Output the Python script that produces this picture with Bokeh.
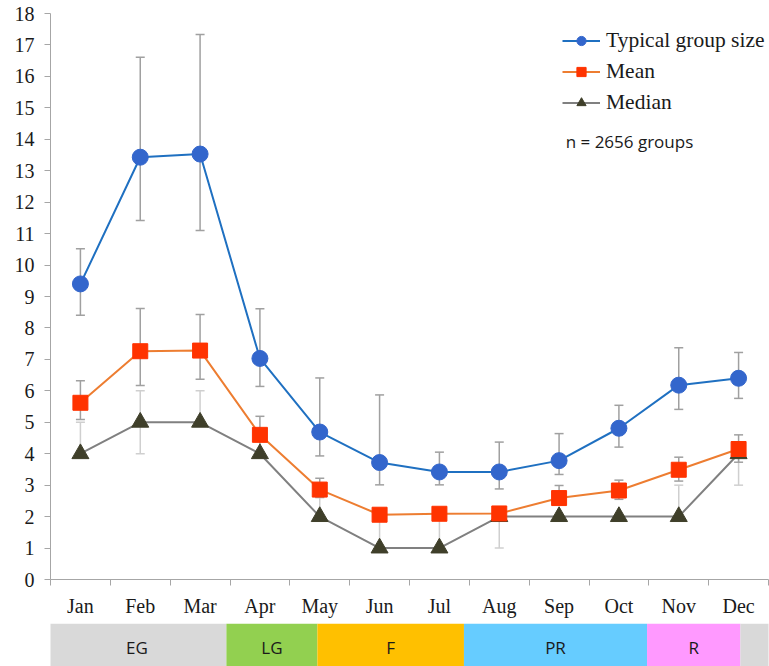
from bokeh.plotting import figure
from bokeh.models import FixedTicker, Range1d, Legend, LegendItem, Label
from bokeh.layouts import column
from bokeh.embed import file_html
from bokeh.resources import INLINE
from bokeh.core.properties import value

# ---------------- data ----------------
months = ["Jan", "Feb", "Mar", "Apr", "May", "Jun", "Jul", "Aug", "Sep", "Oct", "Nov", "Dec"]

typical = [9.40, 13.43, 13.53, 7.03, 4.69, 3.72, 3.42, 3.42, 3.78, 4.81, 6.18, 6.40]
typical_lo = [8.40, 11.42, 11.10, 6.14, 3.93, 3.01, 3.01, 2.88, 3.34, 4.21, 5.41, 5.76]
typical_hi = [10.52, 16.61, 17.33, 8.61, 6.41, 5.87, 4.05, 4.37, 4.64, 5.54, 7.37, 7.22]

mean = [5.62, 7.26, 7.28, 4.60, 2.86, 2.06, 2.09, 2.10, 2.59, 2.83, 3.49, 4.15]
mean_lo = [5.09, 6.17, 6.37, 4.05, 2.62, 1.95, 1.95, 1.95, 2.40, 2.55, 3.13, 3.73]
mean_hi = [6.32, 8.62, 8.43, 5.19, 3.22, 2.20, 2.20, 2.25, 2.99, 3.16, 3.89, 4.60]

median = [4, 5, 5, 4, 2, 1, 1, 2, 2, 2, 2, 4]
median_lo = [4, 4, 5, 4, 2, 1, 1, 1, 2, 2, 2, 3]
median_hi = [5, 6, 6, 4, 2.6, 2, 2, 2, 2, 2, 3, 4]

# phases (in month units, 0 = start of January)
phases = ["EG", "LG", "F", "PR", "R", ""]
phase_start = [-0.05, 2.94, 4.46, 6.91, 9.97, 11.53]
phase_end = [2.94, 4.46, 6.91, 9.97, 11.53, 12.02]

n_text = "n = 2656 groups"

# ---------------- styles ----------------
SERIF = "Liberation Serif"
SANS = "Open Sans"
AXIS_GREY = "#A6A6A6"
ERR_GREY = "#A0A0A0"
ERR_LIGHT = "#CFCFCF"
phase_colors = ["#D9D9D9", "#92D050", "#FFC000", "#66CCFF", "#FF99FF", "#D9D9D9"]

x = list(range(len(months)))
xr = Range1d(-0.5, 11.5)

p = figure(width=769, height=623, x_range=xr, y_range=Range1d(0, 18),
           output_backend="svg", toolbar_location=None,
           min_border_left=50, min_border_right=1, min_border_top=13, min_border_bottom=44)
p.xgrid.visible = False
p.ygrid.visible = False
p.outline_line_color = None
p.background_fill_color = "white"

# x axis
xa = p.xaxis[0]
xa.ticker = FixedTicker(ticks=x, minor_ticks=[i - 0.5 for i in range(len(months) + 1)])
xa.major_label_overrides = {i: m for i, m in enumerate(months)}
xa.major_tick_out = 0
xa.major_tick_in = 0
xa.minor_tick_out = 6
xa.minor_tick_in = 0
xa.axis_line_color = AXIS_GREY
xa.minor_tick_line_color = AXIS_GREY
xa.major_label_text_font = SERIF
xa.major_label_text_font_size = "20px"
xa.major_label_text_color = "#1a1a1a"
xa.major_label_standoff = 9

# y axis
ya = p.yaxis[0]
ya.ticker = FixedTicker(ticks=list(range(0, 19)))
ya.major_tick_out = 6
ya.major_tick_in = 0
ya.minor_tick_line_color = None
ya.axis_line_color = AXIS_GREY
ya.major_tick_line_color = AXIS_GREY
ya.major_label_text_font = SERIF
ya.major_label_text_font_size = "20px"
ya.major_label_text_color = "#1a1a1a"
ya.major_label_standoff = 10

# error bars
def errbars(lo, hi, color):
    p.segment(x0=x, y0=lo, x1=x, y1=hi, line_color=color, line_width=1.5)
    p.scatter(x=x, y=lo, marker="dash", size=9, line_color=color, line_width=1.5)
    p.scatter(x=x, y=hi, marker="dash", size=9, line_color=color, line_width=1.5)

errbars(median_lo, median_hi, ERR_LIGHT)
errbars(typical_lo, typical_hi, ERR_GREY)
errbars(mean_lo, mean_hi, ERR_GREY)

# series
l3 = p.line(x, median, line_color="#808080", line_width=2)
s3 = p.scatter(x, median, marker="triangle", size=17, fill_color="#3F3F2A", line_color="#3F3F2A")
l2 = p.line(x, mean, line_color="#ED7D31", line_width=2)
s2 = p.scatter(x, mean, marker="square", size=15, fill_color="#FF3300", line_color="#FF3300")
l1 = p.line(x, typical, line_color="#1F70C1", line_width=2)
s1 = p.scatter(x, typical, marker="circle", size=16, fill_color="#3366CC", line_color="#3366CC")

legend = Legend(items=[
    LegendItem(label="Typical group size", renderers=[l1, s1]),
    LegendItem(label="Mean", renderers=[l2, s2]),
    LegendItem(label="Median", renderers=[l3, s3]),
], location=(512, 464), padding=0, margin=0, spacing=6,
    glyph_width=38, glyph_height=23, label_height=23, label_standoff=6,
    label_text_font=SERIF, label_text_font_size="21.5px", label_text_color="#1a1a1a",
    border_line_color=None, background_fill_alpha=0)
p.add_layout(legend)

p.add_layout(Label(x=8.11, y=13.93, text=n_text, text_font=SANS, text_font_size="17px",
                   text_baseline="middle", text_color="#1a1a1a"))

# phase band (shares the month axis of the main chart)
b = figure(width=769, height=43, x_range=xr, y_range=Range1d(0, 1),
           output_backend="svg", toolbar_location=None, x_axis_type=None, y_axis_type=None,
           min_border=0)
b.grid.visible = False
b.outline_line_color = None
b.quad(left=[s - 0.5 for s in phase_start], right=[e - 0.5 for e in phase_end],
       bottom=0, top=1, fill_color=phase_colors, line_color=None)
b.text(x=[(s + e) / 2 - 0.5 for s, e in zip(phase_start, phase_end)], y=[0.45] * len(phases),
       text=phases, text_font=value(SANS), text_font_size="17px", text_align="center",
       text_baseline="middle", text_color="#1a1a1a")

layout = column(p, b, spacing=0)
open("out.html", "w").write(file_html(layout, INLINE))
